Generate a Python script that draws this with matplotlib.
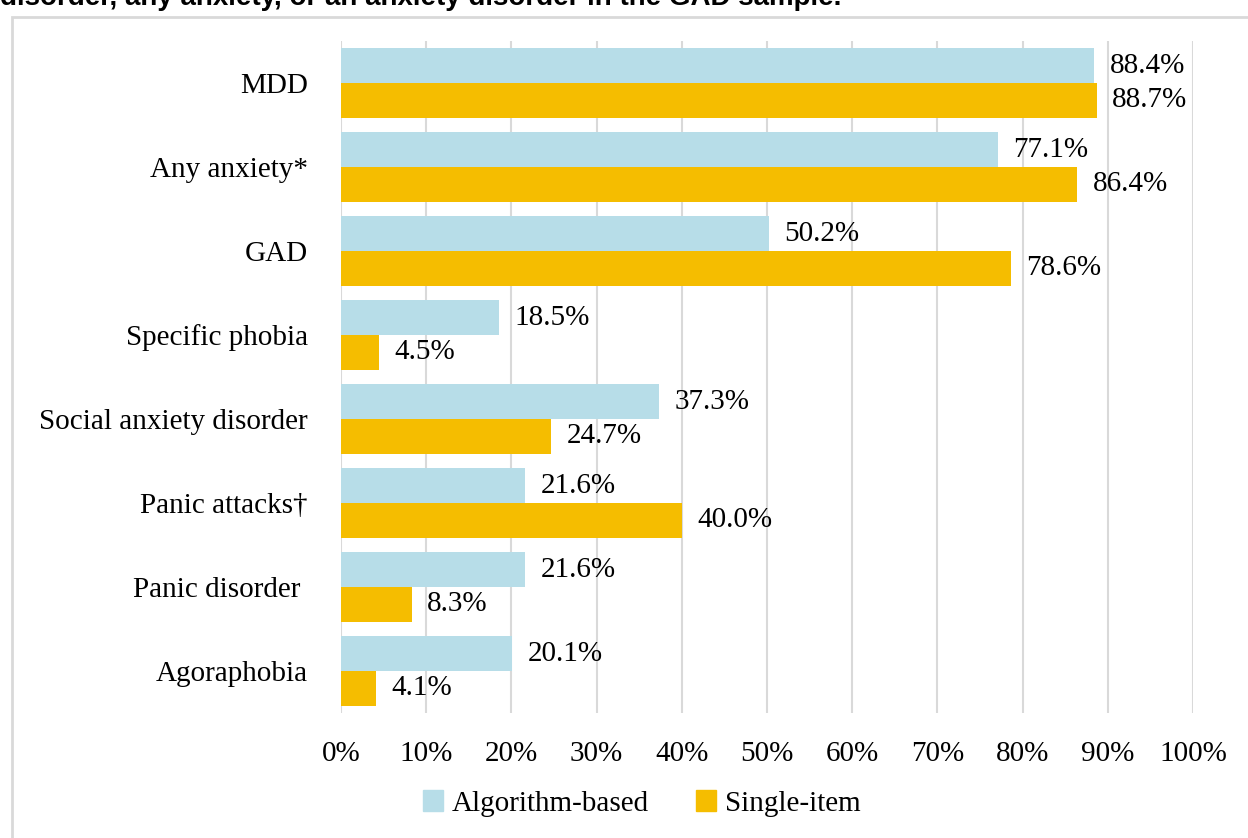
import numpy as np
import matplotlib.pyplot as plt
from matplotlib.patches import Rectangle, Patch

# data
categories = ['MDD', 'Any anxiety*', 'GAD', 'Specific phobia',
              'Social anxiety disorder', 'Panic attacks\u2020', 'Panic disorder ',
              'Agoraphobia']
algorithm = [88.4, 77.1, 50.2, 18.5, 37.3, 21.6, 21.6, 20.1]
single = [88.7, 86.4, 78.6, 4.5, 24.7, 40.0, 8.3, 4.1]
xticks = [0, 10, 20, 30, 40, 50, 60, 70, 80, 90, 100]

blue = '#B7DDE8'
orange = '#F5BD00'
serif = ['Liberation Serif', 'DejaVu Serif']
fs = 21

fig = plt.figure(figsize=(12.48, 8.38), dpi=100)
ax = fig.add_axes([341/1248, 1 - 713/838, (1193-341)/1248, (713-41)/838])

y = np.arange(len(categories))
h = 0.415
ax.barh(y - h/2, algorithm, height=h, color=blue, zorder=2)
ax.barh(y + h/2, single, height=h, color=orange, zorder=2)

for i in range(len(categories)):
    ax.text(algorithm[i] + 1.8, y[i] - h/2, '%.1f%%' % algorithm[i],
            va='center', ha='left', fontsize=fs, family=serif)
    ax.text(single[i] + 1.8, y[i] + h/2, '%.1f%%' % single[i],
            va='center', ha='left', fontsize=fs, family=serif)

ax.set_xlim(0, 100)
ax.set_ylim(len(categories) - 0.5, -0.5)
ax.set_xticks(xticks)
ax.set_xticklabels(['%d%%' % t for t in xticks], fontsize=fs, family=serif)
ax.set_yticks(y)
ax.set_yticklabels(categories, fontsize=fs, family=serif)
ax.tick_params(length=0, pad=24, axis='y')
ax.tick_params(length=0, pad=20, axis='x')
ax.grid(axis='x', color='#d9d9d9', lw=1.5, zorder=0)
for s in ax.spines.values():
    s.set_visible(False)

# outer chart frame
fig.patches.append(Rectangle((12/1248, -0.1), 1.2, (838-17)/838 + 0.1,
                             transform=fig.transFigure, fill=False,
                             edgecolor='#d9d9d9', lw=2))

# cut-off caption at top
fig.text(0.0, 1 - 5/838, 'disorder, any anxiety, or an anxiety disorder in the GAD sample.',
         fontsize=20, fontweight='bold', family=['Liberation Sans', 'DejaVu Sans'],
         ha='left', va='baseline')

handles = [Patch(color=blue, label='Algorithm-based'),
           Patch(color=orange, label='Single-item')]
fig.legend(handles=handles, loc='center', bbox_to_anchor=(0.514, 0.041), ncol=2,
           frameon=False, prop={'family': serif, 'size': fs},
           handlelength=0.7, handleheight=0.7, handletextpad=0.3, columnspacing=1.6)

fig.savefig('out.png', dpi=100)
